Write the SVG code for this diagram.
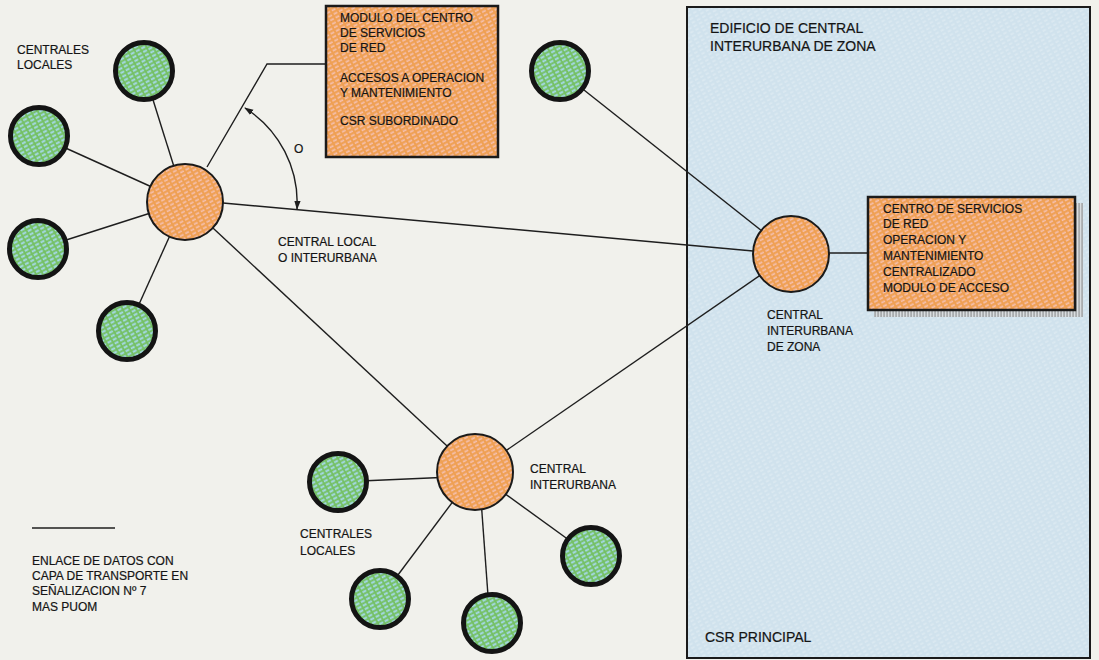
<svg xmlns="http://www.w3.org/2000/svg" width="1099" height="660" viewBox="0 0 1099 660">
  <defs>
    <style>
      .lbl { font-family: "Liberation Sans", Arial, sans-serif; font-size: 12px; fill: #141414; stroke: #141414; stroke-width: 0.2; }
      .big { font-size: 14px; }
      .link { stroke: #1e1e1e; stroke-width: 1.4; fill: none; }
      .local { fill: url(#texGreen); stroke: #141414; stroke-width: 5; }
      .hub { fill: url(#texOrange); stroke: #1a1a1a; stroke-width: 2; }
      .panel { fill: url(#texOrange); stroke: #1a1a1a; stroke-width: 2.5; }
    </style>
    <!-- fine diagonal screen textures of the print -->
    <pattern id="texOrange" width="6" height="4" patternUnits="userSpaceOnUse" patternTransform="rotate(-28)">
      <rect width="6" height="4" fill="#efa054"/>
      <rect x="0" y="0.4" width="4" height="1.7" fill="#f5c0ae"/>
    </pattern>
    <pattern id="texGreen" width="6" height="4" patternUnits="userSpaceOnUse" patternTransform="rotate(-28)">
      <rect width="6" height="4" fill="#74c062"/>
      <rect x="0" y="0.3" width="4.2" height="2" fill="#a6d9ea"/>
    </pattern>
    <pattern id="texBlue" width="6" height="4" patternUnits="userSpaceOnUse" patternTransform="rotate(-28)">
      <rect width="6" height="4" fill="#d0e2ed"/>
      <rect x="0" y="0.5" width="3.6" height="1.2" fill="#e0ecf3"/>
    </pattern>
    <pattern id="texGrey" width="3" height="3" patternUnits="userSpaceOnUse">
      <rect width="3" height="3" fill="#a9acae"/>
      <rect width="1.2" height="3" fill="#d9dde0"/>
    </pattern>
    <marker id="tip" viewBox="0 0 10 10" refX="9" refY="5" markerWidth="9" markerHeight="9" markerUnits="userSpaceOnUse" orient="auto-start-reverse">
      <path d="M0,1.5 L10,5 L0,8.5 Z" fill="#1e1e1e"/>
    </marker>
  </defs>

  <!-- page -->
  <rect width="1099" height="660" fill="#f1f1ec"/>

  <!-- zone toll exchange building -->
  <g id="building">
    <rect x="687" y="7" width="403" height="651" fill="url(#texBlue)" stroke="#1a1a1a" stroke-width="2"/>
    <text class="lbl big" x="710" y="33">EDIFICIO DE CENTRAL</text>
    <text class="lbl big" x="710" y="51">INTERURBANA DE ZONA</text>
    <text class="lbl big" x="705" y="642">CSR PRINCIPAL</text>
  </g>

  <!-- data links -->
  <g id="connectors">
    <line class="link" x1="144" y1="71" x2="185" y2="202"/>
    <line class="link" x1="39" y1="136" x2="185" y2="202"/>
    <line class="link" x1="38" y1="249" x2="185" y2="202"/>
    <line class="link" x1="127" y1="331" x2="185" y2="202"/>
    <polyline class="link" points="207,167 267,64 326,64"/>
    <line class="link" x1="223" y1="203" x2="753" y2="251"/>
    <line class="link" x1="185" y1="202" x2="475" y2="472"/>
    <line class="link" x1="475" y1="472" x2="791" y2="254"/>
    <line class="link" x1="560" y1="71" x2="791" y2="254"/>
    <line class="link" x1="829" y1="253" x2="868" y2="253"/>
    <line class="link" x1="338" y1="482" x2="475" y2="476"/>
    <line class="link" x1="380" y1="599" x2="475" y2="472"/>
    <line class="link" x1="490" y1="623" x2="479" y2="472"/>
    <line class="link" x1="591" y1="556" x2="475" y2="472"/>
    <path class="link" d="M 245 108 A 112 112 0 0 1 297 209" marker-start="url(#tip)" marker-end="url(#tip)"/>
    <text class="lbl" x="294" y="153">O</text>
  </g>

  <!-- subordinate network service module -->
  <g id="csr-subordinado">
    <rect class="panel" x="326" y="6" width="172" height="151"/>
    <text class="lbl" x="340" y="22">MODULO DEL CENTRO</text>
    <text class="lbl" x="340" y="37">DE SERVICIOS</text>
    <text class="lbl" x="340" y="52">DE RED</text>
    <text class="lbl" x="340" y="82">ACCESOS A OPERACION</text>
    <text class="lbl" x="340" y="97">Y MANTENIMIENTO</text>
    <text class="lbl" x="340" y="125">CSR SUBORDINADO</text>
  </g>

  <!-- main network service centre -->
  <g id="csr-principal">
    <rect x="874" y="203" width="209" height="114" fill="url(#texGrey)"/>
    <rect class="panel" x="868" y="197" width="207" height="113" stroke-width="3"/>
    <text class="lbl" x="883" y="213">CENTRO DE SERVICIOS</text>
    <text class="lbl" x="883" y="228">DE RED</text>
    <text class="lbl" x="883" y="244">OPERACION Y</text>
    <text class="lbl" x="883" y="260">MANTENIMIENTO</text>
    <text class="lbl" x="883" y="276">CENTRALIZADO</text>
    <text class="lbl" x="883" y="292">MODULO DE ACCESO</text>
  </g>

  <!-- exchanges -->
  <g id="central-local">
    <circle class="hub" cx="185" cy="202" r="38"/>
    <text class="lbl" x="278" y="246">CENTRAL LOCAL</text>
    <text class="lbl" x="278" y="262">O INTERURBANA</text>
  </g>
  <g id="central-interurbana-zona">
    <circle class="hub" cx="791" cy="254" r="38"/>
    <text class="lbl" x="767" y="319">CENTRAL</text>
    <text class="lbl" x="767" y="335">INTERURBANA</text>
    <text class="lbl" x="767" y="351">DE ZONA</text>
  </g>
  <g id="central-interurbana">
    <circle class="hub" cx="475" cy="472" r="38"/>
    <text class="lbl" x="530" y="473">CENTRAL</text>
    <text class="lbl" x="530" y="489">INTERURBANA</text>
  </g>

  <!-- local exchanges, upper cluster -->
  <g id="locales-superior">
    <circle class="local" cx="144" cy="71" r="28.5"/>
    <circle class="local" cx="39" cy="136" r="28.5"/>
    <circle class="local" cx="38" cy="249" r="28.5"/>
    <circle class="local" cx="127" cy="331" r="28.5"/>
    <text class="lbl" x="17" y="54">CENTRALES</text>
    <text class="lbl" x="17" y="69">LOCALES</text>
  </g>
  <g id="local-zona">
    <circle class="local" cx="560" cy="71" r="28.5"/>
  </g>

  <!-- local exchanges, lower cluster -->
  <g id="locales-inferior">
    <circle class="local" cx="338" cy="482" r="28.5"/>
    <circle class="local" cx="380" cy="599" r="28.5"/>
    <circle class="local" cx="492" cy="623" r="28.5"/>
    <circle class="local" cx="591" cy="556" r="28.5"/>
    <text class="lbl" x="300" y="538">CENTRALES</text>
    <text class="lbl" x="300" y="555">LOCALES</text>
  </g>

  <!-- legend -->
  <g id="leyenda">
    <line class="link" x1="32" y1="528" x2="115" y2="528" stroke-width="1.6"/>
    <text class="lbl" x="32" y="565">ENLACE DE DATOS CON</text>
    <text class="lbl" x="32" y="580">CAPA DE TRANSPORTE EN</text>
    <text class="lbl" x="32" y="595">SEÑALIZACION Nº 7</text>
    <text class="lbl" x="32" y="611">MAS PUOM</text>
  </g>
</svg>
